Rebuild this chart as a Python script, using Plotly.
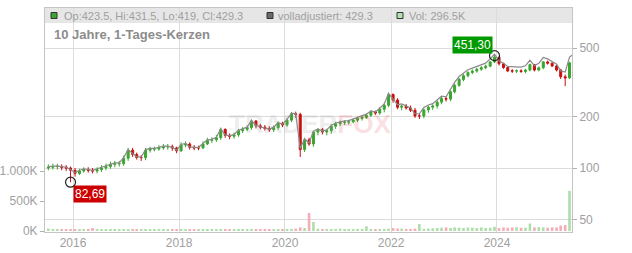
import math
import plotly.graph_objects as go
import pandas as pd

# Monthly periods Jun 2015 .. May 2025
dates = pd.date_range("2015-06-15", periods=120, freq="MS") + pd.Timedelta(days=14)

close = [
    101, 102, 102, 101, 100, 97, 93,
    96, 98, 97, 96, 98, 100, 102, 105, 106, 106, 114, 127,
    120, 115, 115, 127, 129, 129, 131, 133, 133, 131, 126, 136,
    138, 132, 131, 131, 138, 145, 146, 150, 168, 155, 153, 156,
    165, 168, 172, 188, 176, 173, 170, 167, 172, 182, 178, 190,
    207, 205, 128, 146, 138, 162, 167, 162, 165, 175, 181, 184,
    185, 186, 190, 194, 197, 203, 212, 209, 220, 232, 268, 249,
    226, 229, 224, 217, 201, 201, 218, 226, 230, 242, 254, 252,
    278, 303, 328, 345, 360, 367, 376, 384, 392, 415, 442, 405,
    385, 368, 367, 368, 365, 372, 400, 372, 384, 415, 408, 393,
    372, 340, 335, 410, 429.3,
]
open_ = [
    100, 101, 102, 102, 101, 100, 97,
    93, 96, 98, 97, 96, 98, 100, 102, 105, 106, 106, 114,
    127, 120, 115, 115, 127, 129, 129, 131, 133, 133, 131, 126,
    136, 138, 132, 131, 131, 138, 145, 146, 150, 168, 155, 153,
    156, 165, 168, 172, 188, 176, 173, 170, 167, 172, 182, 178,
    190, 207, 205, 128, 146, 138, 162, 167, 162, 165, 175, 181,
    184, 185, 186, 190, 194, 197, 203, 212, 209, 220, 232, 268,
    249, 226, 229, 224, 217, 201, 201, 218, 226, 230, 242, 254,
    252, 278, 303, 328, 345, 360, 367, 376, 384, 392, 415, 442,
    405, 385, 368, 367, 368, 365, 372, 400, 372, 384, 415, 408,
    393, 372, 340, 335, 410,
]
high = [
    105, 106, 106, 105, 104, 102, 100,
    99, 101, 101, 100, 101, 104, 106, 109, 110, 110, 118, 131,
    131, 123, 119, 131, 133, 133, 136, 138, 138, 137, 133, 141,
    143, 141, 136, 135, 143, 150, 151, 156, 172, 170, 159, 161,
    169, 173, 177, 192, 190, 181, 178, 175, 177, 187, 186, 195,
    212, 213, 210, 150, 150, 164, 170, 171, 169, 180, 186, 189,
    190, 191, 195, 199, 202, 208, 217, 216, 226, 238, 275, 272,
    255, 234, 236, 231, 224, 208, 222, 231, 235, 248, 260, 262,
    283, 310, 335, 352, 366, 375, 383, 392, 400, 420, 451.3, 444,
    410, 390, 377, 375, 376, 378, 405, 404, 390, 420, 422, 413,
    398, 378, 350, 415, 440,
]
low = [
    97, 98, 98, 97, 96, 82.69, 89,
    91, 94, 94, 93, 93, 95, 97, 99, 101, 102, 103, 110,
    116, 112, 110, 111, 123, 125, 126, 128, 128, 126, 122, 124,
    132, 128, 127, 127, 129, 136, 140, 142, 146, 150, 147, 148,
    152, 160, 164, 167, 170, 168, 165, 162, 162, 167, 173, 174,
    185, 196, 116, 124, 135, 133, 155, 157, 155, 158, 169, 176,
    178, 179, 182, 185, 189, 193, 198, 204, 204, 211, 226, 240,
    220, 217, 219, 212, 196, 193, 195, 210, 218, 222, 235, 244,
    245, 272, 297, 320, 337, 352, 359, 368, 376, 386, 408, 395,
    378, 362, 358, 357, 358, 356, 366, 365, 366, 376, 400, 387,
    365, 330, 300, 330, 400,
]
adjusted = [
    102, 103, 103, 102, 101, 98, 94,
    97, 99, 98, 97, 99, 101, 103, 106, 107, 107, 115, 128,
    121, 116, 116, 128, 130, 130, 132, 134, 134, 132, 127, 137,
    139, 133, 132, 132, 139, 146, 147, 151, 169, 156, 154, 157,
    166, 169, 173, 189, 177, 174, 171, 168, 173, 184, 180, 192,
    209, 207, 130, 148, 140, 164, 169, 164, 167, 177, 183, 186,
    188, 189, 193, 197, 200, 206, 215, 212, 223, 236, 272, 253,
    233, 236, 231, 224, 207, 207, 225, 233, 237, 249, 262, 260,
    289, 315, 341, 359, 374, 382, 391, 399, 408, 432, 460, 421,
    408, 390, 389, 390, 387, 394, 424, 394, 407, 440, 432, 417,
    402, 367, 362, 443, 464,
]
volume_k = [
    40, 25, 20, 25, 20, 30, 20,
    25, 20, 20, 50, 25, 20, 20, 20, 20, 20, 25, 30,
    25, 20, 20, 20, 25, 20, 20, 20, 20, 20, 25, 20,
    20, 30, 25, 20, 20, 20, 20, 20, 20, 20, 25, 20,
    20, 20, 20, 25, 25, 20, 20, 20, 20, 25, 30, 35,
    35, 40, 60, 50, 300, 150, 40, 35, 30, 30, 35, 40,
    30, 30, 30, 35, 30, 80, 30, 30, 30, 35, 40, 50,
    40, 40, 35, 35, 40, 115, 35, 40, 45, 50, 55, 60,
    50, 60, 55, 50, 60, 55, 50, 60, 50, 55, 70, 50,
    60, 55, 60, 65, 55, 55, 125, 60, 65, 60, 55, 60,
    60, 90, 100, 670, 970,
]

low_idx = low.index(min(low))
high_idx = high.index(max(high))

year_ticks = ["2016-01-01", "2018-01-01", "2020-01-01", "2022-01-01", "2024-01-01"]
year_labels = ["2016", "2018", "2020", "2022", "2024"]
price_ticks = [50, 100, 200, 500]
vol_ticks = [0, 500000, 1000000]
vol_labels = ["0K", "500K", "1.000K"]

legend_ohlc = "Op:423.5, Hi:431.5, Lo:419, Cl:429.3"
legend_adj = "volladjustiert: 429.3"
legend_vol = "Vol: 296.5K"
title_text = "10 Jahre, 1-Tages-Kerzen"

GREEN = "#3aa52f"
RED = "#c80f0f"
GRID = "#dcdcdc"
LABEL = "#a0a0a0"
FONT = "Liberation Sans, Arial, sans-serif"

vol_colors = ["#a6dba0" if c >= o else "#f2a7b1" for c, o in zip(close, open_)]

fig = go.Figure()
fig.add_trace(go.Scatter(x=dates, y=adjusted, mode="lines",
                         line=dict(color="#8a8a8a", width=1.2), yaxis="y", hoverinfo="skip"))
fig.add_trace(go.Candlestick(x=dates, open=open_, high=high, low=low, close=close,
                             increasing=dict(line=dict(color=GREEN, width=1), fillcolor=GREEN),
                             decreasing=dict(line=dict(color=RED, width=1), fillcolor=RED),
                             whiskerwidth=0, yaxis="y"))
fig.add_trace(go.Bar(x=dates, y=[v * 1000 for v in volume_k], marker=dict(color=vol_colors, line=dict(width=0)),
                     yaxis="y2", opacity=0.9))
fig.add_trace(go.Scatter(x=[dates[low_idx], dates[high_idx]], y=[low[low_idx], high[high_idx]],
                         mode="markers", marker=dict(symbol="circle-open", size=10,
                                                     color="#222222", line=dict(width=1.2)),
                         yaxis="y"))

W0, W1 = 45, 572
T0, B0 = 8, 232
PW, PH = W1 - W0, B0 - T0

def px(x):
    return (x - W0) / PW

def py(y):
    return (B0 - y) / PH

shapes = [
    dict(type="rect", xref="paper", yref="paper", x0=0, x1=1, y0=py(23), y1=1,
         fillcolor="#e6e6e6", line=dict(width=0), layer="below"),
]
for x0, fill in [(51, GREEN), (267, "#6a6a6a"), (397, "#b5e3b0")]:
    shapes.append(dict(type="rect", xref="paper", yref="paper", x0=px(x0), x1=px(x0 + 6),
                       y0=py(18.5), y1=py(12.5), fillcolor=fill, line=dict(color="#333333", width=1)))

annotations = [
    dict(xref="paper", yref="paper", x=px(62), y=py(15.5), text=legend_ohlc, showarrow=False,
         xanchor="left", yanchor="middle", font=dict(size=11, color=LABEL, family=FONT)),
    dict(xref="paper", yref="paper", x=px(276), y=py(15.5), text=legend_adj, showarrow=False,
         xanchor="left", yanchor="middle", font=dict(size=11, color=LABEL, family=FONT)),
    dict(xref="paper", yref="paper", x=px(407), y=py(15.5), text=legend_vol, showarrow=False,
         xanchor="left", yanchor="middle", font=dict(size=11, color=LABEL, family=FONT)),
    dict(xref="paper", yref="paper", x=px(52), y=py(34), text="<b>" + title_text + "</b>", showarrow=False,
         xanchor="left", yanchor="middle", font=dict(size=13, color="#8c8c8c", family=FONT)),
    dict(xref="paper", yref="paper", x=px(310), y=py(124),
         text="<b><span style='color:rgba(150,150,150,0.18)'>TRADER</span><span style='color:rgba(230,60,80,0.18)'>FOX</span></b>",
         showarrow=False, xanchor="center", yanchor="middle", font=dict(size=26, family=FONT)),
    dict(x=dates[low_idx], y=math.log10(low[low_idx]), xref="x", yref="y",
         text=f"{low[low_idx]:.2f}".replace(".", ","),
         showarrow=False, xanchor="left", yanchor="top", xshift=2, yshift=-3,
         bgcolor="#cc0000", borderpad=1, font=dict(size=12, color="white", family=FONT)),
    dict(x=dates[high_idx], y=math.log10(high[high_idx]), xref="x", yref="y",
         text=f"{high[high_idx]:.2f}".replace(".", ","),
         showarrow=False, xanchor="right", yanchor="bottom", xshift=-2, yshift=2,
         bgcolor="#009900", borderpad=1, font=dict(size=12, color="white", family=FONT)),
]

fig.update_layout(
    width=632, height=253,
    margin=dict(l=W0, r=632 - W1, t=T0, b=253 - B0, autoexpand=False),
    paper_bgcolor="white", plot_bgcolor="white",
    showlegend=False, bargap=0.35,
    font=dict(family=FONT, color=LABEL, size=12),
    xaxis=dict(type="date", range=["2015-06-22", "2025-06-01"], tickvals=year_ticks, ticktext=year_labels,
               showgrid=True, gridcolor=GRID, gridwidth=1, showline=True, mirror=True,
               linecolor="#c4c4c4", ticks="", rangeslider=dict(visible=False), automargin=False,
               tickfont=dict(size=12, color=LABEL)),
    yaxis=dict(type="log", side="right", range=[1.6273, 2.9320], tickvals=price_ticks,
               ticktext=[str(v) for v in price_ticks], showgrid=True, gridcolor=GRID,
               showline=True, mirror=True, linecolor="#c4c4c4", ticks="outside", ticklen=4,
               tickcolor="#b0b0b0", tickfont=dict(size=12, color=LABEL), zeroline=False,
               automargin=False),
    yaxis2=dict(overlaying="y", side="left", range=[-16700, 3717000], tickvals=vol_ticks,
                ticktext=vol_labels, showgrid=False, zeroline=False, showline=False,
                ticks="outside", ticklen=4, tickcolor="#b0b0b0", automargin=False,
                tickfont=dict(size=12, color=LABEL)),
    shapes=shapes, annotations=annotations,
)

fig.write_html("out.html")
